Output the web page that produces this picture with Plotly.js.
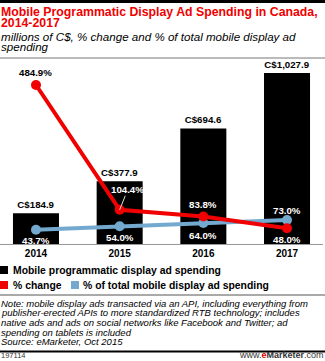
<!DOCTYPE html>
<html>
<head>
<meta charset="utf-8">
<script src="https://cdn.plot.ly/plotly-3.0.1.min.js"></script>
<style>
html,body{margin:0;padding:0;background:#fff;}
#chart{width:325px;height:361px;}
</style>
</head>
<body>
<div id="chart"></div>
<script>
// ---- data ----
const years = ['2014', '2015', '2016', '2017'];
const spending = [184.9, 377.9, 694.6, 1027.9];
const pctChange = [484.9, 104.4, 83.8, 48.0];
const pctTotal = [43.7, 54.0, 64.0, 73.0];
const pctChangeLabels = ['484.9%', '104.4%', '83.8%', '48.0%'];
const pctTotalLabels = ['43.7%', '54.0%', '64.0%', '73.0%'];

const titleLines = ['Mobile Programmatic Display Ad Spending in Canada,', '2014-2017'];
const subtitleLines = ['millions of C$, % change and % of total mobile display ad', 'spending'];
const legendNames = ['Mobile programmatic display ad spending', '% change', '% of total mobile display ad spending'];
const noteLines = [
  'Note: mobile display ads transacted via an API, including everything from',
  'publisher-erected APIs to more standardized RTB technology; includes',
  'native ads and ads on social networks like Facebook and Twitter; ad',
  'spending on tablets is included',
  'Source: eMarketer, Oct 2015'
];

// ---- layout geometry (pixels) ----
const W = 325, H = 361;
const PT = 62, PB = 244, PL = 0, PR = 323;
const FONT = 'Liberation Sans, Arial, sans-serif';
const RED = '#f00000', BLUE = '#74a9cf';
const px = p => (p - PL) / (PR - PL);
const py = p => (PB - p) / (PB - PT);

const traces = [
  {
    type: 'bar', x: years, y: spending, name: legendNames[0],
    marker: {color: '#000'}, width: 0.55,
    texttemplate: 'C$%{y:,.1f}', textposition: 'outside', cliponaxis: false,
    textfont: {family: FONT, size: 9.7, color: '#000', weight: 'bold'},
    hoverinfo: 'skip', showlegend: false
  },
  {
    type: 'scatter', mode: 'lines+markers', x: years, y: pctTotal, yaxis: 'y2',
    name: legendNames[2], line: {color: BLUE, width: 4}, marker: {color: BLUE, size: 10},
    cliponaxis: false, showlegend: false, hoverinfo: 'skip'
  },
  {
    type: 'scatter', mode: 'lines+markers', x: years, y: pctChange, yaxis: 'y2',
    name: legendNames[1], line: {color: RED, width: 4}, marker: {color: RED, size: 10},
    cliponaxis: false, showlegend: false, hoverinfo: 'skip'
  }
];

const ann = [];
const lblFont = c => ({family: FONT, size: 9.7, color: c, weight: 'bold'});
// % change labels
const chShift = [12, 0, 12, -11];
const chColor = ['#000', '#fff', '#fff', '#fff'];
pctChange.forEach((v, i) => {
  if (i === 1) {
    ann.push({xref: 'x', yref: 'y2', x: i, y: v, text: pctChangeLabels[i],
      showarrow: true, ax: 8, ay: -20, arrowcolor: '#ddd', arrowwidth: 1, arrowhead: 0,
      standoff: 0, borderpad: 0, font: lblFont(chColor[i])});
  } else {
    ann.push({xref: 'x', yref: 'y2', x: i, y: v, text: pctChangeLabels[i],
      showarrow: false, yshift: chShift[i], borderpad: 0, font: lblFont(chColor[i])});
  }
});
// % of total labels
const totShift = [-11, -11, -12, 10];
pctTotal.forEach((v, i) => {
  ann.push({xref: 'x', yref: 'y2', x: i, y: v, text: pctTotalLabels[i],
    showarrow: false, yshift: totShift[i], borderpad: 0, font: lblFont('#fff')});
});

const textAnn = (text, x, y, font, xanchor, yanchor) => ({
  xref: 'paper', yref: 'paper', x: px(x), y: py(y), text: text, showarrow: false,
  xanchor: xanchor || 'left', yanchor: yanchor || 'middle', align: 'left', borderpad: 0, font: font
});
// header
ann.push(textAnn(titleLines[0], 0, 11.5, {family: FONT, size: 12.3, color: RED, weight: 'bold'}));
ann.push(textAnn(titleLines[1], 0, 22.5, {family: FONT, size: 12.3, color: RED, weight: 'bold'}));
ann.push(textAnn(subtitleLines[0], 0, 36, {family: FONT, size: 11.6, color: '#000', style: 'italic'}));
ann.push(textAnn(subtitleLines[1], 0, 46.5, {family: FONT, size: 11.6, color: '#000', style: 'italic'}));
// legend
const legFont = {family: FONT, size: 10.4, color: '#000', weight: 'bold'};
ann.push(textAnn(legendNames[0], 12, 270, legFont));
ann.push(textAnn(legendNames[1], 12, 285, legFont));
ann.push(textAnn(legendNames[2], 82, 285, legFont));
// notes
const noteY = [303, 312.7, 322.4, 332.1, 341.8];
noteLines.forEach((t, i) => ann.push(textAnn(t, 0, noteY[i], {family: FONT, size: 9.5, color: '#000', style: 'italic'})));
// footer
ann.push(textAnn('197114', 0, 361, {family: FONT, size: 7.5, color: '#333'}, 'left', 'bottom'));
ann.push(textAnn('www.<b><span style="color:#e00000">e</span>Marketer</b>.com', 325, 361,
  {family: FONT, size: 9, color: '#333'}, 'right', 'bottom'));

const shapes = [
  {type: 'rect', xref: 'paper', yref: 'paper', x0: px(0), x1: px(325), y0: py(0), y1: py(3), fillcolor: '#000', line: {width: 0}},
  {type: 'line', xref: 'paper', yref: 'paper', x0: px(0), x1: px(325), y0: py(58), y1: py(58), line: {color: '#777', width: 1}},
  {type: 'rect', xref: 'paper', yref: 'paper', x0: px(0), x1: px(8), y0: py(266), y1: py(274), fillcolor: '#000', line: {width: 0}},
  {type: 'rect', xref: 'paper', yref: 'paper', x0: px(0), x1: px(8), y0: py(281), y1: py(289), fillcolor: RED, line: {width: 0}},
  {type: 'rect', xref: 'paper', yref: 'paper', x0: px(71), x1: px(79), y0: py(281), y1: py(289), fillcolor: BLUE, line: {width: 0}},
  {type: 'line', xref: 'paper', yref: 'paper', x0: px(0), x1: px(325), y0: py(295), y1: py(295), line: {color: '#555', width: 1}},
  {type: 'rect', xref: 'paper', yref: 'paper', x0: px(0), x1: px(325), y0: py(350.5), y1: py(352.5), fillcolor: '#000', line: {width: 0}}
];

const hiddenAxis = {showticklabels: false, ticks: '', showline: false, showgrid: false, zeroline: false, fixedrange: true};
const layout = {
  width: W, height: H,
  margin: {l: PL, r: W - PR, t: PT, b: H - PB, pad: 0},
  paper_bgcolor: '#fff', plot_bgcolor: '#fff',
  showlegend: false,
  xaxis: {
    type: 'category', range: [-0.43, 3.43], showline: true, linecolor: '#999', linewidth: 1,
    ticks: '', showgrid: false, zeroline: false, fixedrange: true,
    tickfont: {family: FONT, size: 10, color: '#000', weight: 'bold'}
  },
  yaxis: Object.assign({range: [0, 1094]}, hiddenAxis),
  yaxis2: Object.assign({range: [0, 555], overlaying: 'y', side: 'right'}, hiddenAxis),
  annotations: ann,
  shapes: shapes
};

Plotly.newPlot('chart', traces, layout, {staticPlot: true, displayModeBar: false});
</script>
</body>
</html>
